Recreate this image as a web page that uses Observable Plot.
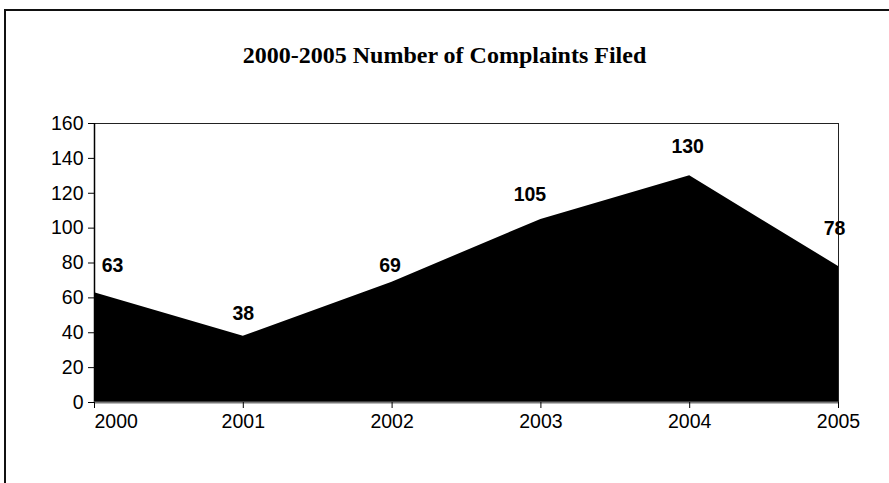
<!DOCTYPE html>
<html>
<head>
<meta charset="utf-8">
<script src="https://cdn.jsdelivr.net/npm/d3@7"></script>
<script src="https://cdn.jsdelivr.net/npm/@observablehq/plot@0.6"></script>
<style>
  html, body { margin: 0; padding: 0; background: #fff; }
  #wrap { position: relative; width: 889px; height: 483px; overflow: hidden; background: #fff; }
  #frameTop { position: absolute; left: 4px; top: 9px; width: 885px; height: 2px; background: #111; }
  #frameLeft { position: absolute; left: 4px; top: 9px; width: 2px; height: 474px; background: #111; }
  #title { position: absolute; left: 0; top: 0; width: 889px; height: 100px; line-height: 110px;
           text-align: center; font-family: "Liberation Serif", "Times New Roman", serif;
           font-weight: bold; font-size: 24px; color: #000; }
  #chart { position: absolute; left: 0; top: 100px; }
</style>
</head>
<body>
<div id="wrap">
  <div id="title">2000-2005 Number of Complaints Filed</div>
  <div id="chart"></div>
  <div id="frameTop"></div>
  <div id="frameLeft"></div>
</div>
<script>
const years = [2000, 2001, 2002, 2003, 2004, 2005];
const complaints = [63, 38, 69, 105, 130, 78];
const yTicks = [0, 20, 40, 60, 80, 100, 120, 140, 160];
const titleText = "2000-2005 Number of Complaints Filed";

const data = years.map((year, i) => ({year, value: complaints[i]}));

function labelMarks() {
  const offsets = [[18, -27], [0, -22], [-2, -16], [-11, -25], [-2, -29], [-4, -38]];
  return data.map((d, i) => Plot.text([d], {
    x: "year", y: "value", text: (r) => String(r.value),
    dx: offsets[i][0], dy: offsets[i][1],
    fontWeight: "bold", fontSize: 19.5, fill: "#000",
    fontFamily: "'Liberation Sans', Arial, sans-serif"
  }));
}

const plot = Plot.plot({
  width: 889,
  height: 383,
  marginLeft: 94,
  marginRight: 51,
  marginTop: 23,
  marginBottom: 81,
  style: {fontFamily: "'Liberation Sans', Arial, sans-serif", fontSize: "19.5px", color: "#000", background: "#fff"},
  x: {domain: [2000, 2005], label: null},
  y: {domain: [0, 160], label: null},
  marks: [
    Plot.areaY(data, {x: "year", y: "value", fill: "#000"}),
    Plot.frame({stroke: "#222", strokeWidth: 1}),
    Plot.ruleX([2000], {stroke: "#000", strokeWidth: 1.5}),
    Plot.ruleY([0], {stroke: "#777", strokeWidth: 2}),
    Plot.axisY({ticks: yTicks, tickSize: 6, tickPadding: 5, tickFormat: "d", label: null, fontSize: 19.5}),
    Plot.axisX({ticks: years.slice(1), tickSize: 6, tickPadding: 6, tickFormat: "d", label: null, fontSize: 19.5}),
    Plot.axisX({ticks: years.slice(0, 1), tickSize: 6, tickPadding: 6, tickFormat: "d", label: null, text: null}),
    Plot.text(years.slice(0, 1), {x: (d) => d, frameAnchor: "bottom", lineAnchor: "top", dy: 12, textAnchor: "start", text: (d) => String(d), fontSize: 19.5}),
    ...labelMarks()
  ]
});
document.getElementById("chart").appendChild(plot);
</script>
</body>
</html>
